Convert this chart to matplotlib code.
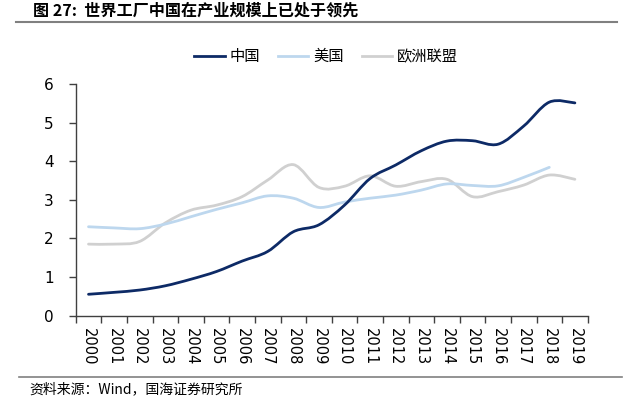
import numpy as np
import matplotlib
matplotlib.use("Agg")
import matplotlib.pyplot as plt
from matplotlib.path import Path
from matplotlib.patches import PathPatch
from matplotlib.lines import Line2D

plt.rcParams['font.family'] = ['Noto Sans CJK SC', 'DejaVu Sans']

years = [str(y) for y in range(2000, 2020)]
china = [0.55, 0.60, 0.66, 0.77, 0.94, 1.14, 1.41, 1.66, 2.17, 2.35,
         2.86, 3.55, 3.90, 4.27, 4.52, 4.53, 4.44, 4.91, 5.53, 5.51]
usa = [2.30, 2.27, 2.25, 2.37, 2.56, 2.75, 2.92, 3.10, 3.04, 2.80,
       2.94, 3.04, 3.12, 3.25, 3.41, 3.37, 3.36, 3.58, 3.84, None]
eu = [1.85, 1.85, 1.92, 2.40, 2.73, 2.86, 3.08, 3.51, 3.91, 3.32,
      3.35, 3.62, 3.35, 3.47, 3.53, 3.08, 3.21, 3.38, 3.64, 3.53]
series_names = ['中国', '美国', '欧洲联盟']
colors = ['#0D2A66', '#BDD7EE', '#D0D0D0']

W, H = 633, 411
fig = plt.figure(figsize=(W / 100, H / 100), dpi=100)
ax = fig.add_axes([75.7 / W, (H - 315.5) / H, (587.7 - 75.7) / W, (315.5 - 84) / H])


def smooth_path(xs, ys, t=1 / 6):
    pts = np.column_stack([xs, ys])
    n = len(pts)
    verts = [pts[0]]
    codes = [Path.MOVETO]
    for i in range(n - 1):
        p0 = pts[i - 1] if i > 0 else pts[i]
        p1 = pts[i]
        p2 = pts[i + 1]
        p3 = pts[i + 2] if i + 2 < n else pts[i + 1]
        c1 = p1 + (p2 - p0) * t
        c2 = p2 - (p3 - p1) * t
        verts += [c1, c2, p2]
        codes += [Path.CURVE4] * 3
    return Path(verts, codes)


order = [(eu, 2), (usa, 1), (china, 0)]
for data, idx in order:
    xs = [i for i, v in enumerate(data) if v is not None]
    ys = [v for v in data if v is not None]
    patch = PathPatch(smooth_path(np.array(xs, float), np.array(ys, float)),
                      facecolor='none', edgecolor=colors[idx], lw=2.0,
                      capstyle='round', joinstyle='round', zorder=3 - idx * 0.1)
    ax.add_patch(patch)

ax.set_xlim(-0.5, len(years) - 0.5)
ax.set_ylim(0, 6)
ax.set_yticks(range(0, 7))
ax.set_yticklabels([str(v) for v in range(0, 7)], fontsize=11, family=['DejaVu Sans'])
ax.set_xticks(np.arange(len(years)))
ax.set_xticklabels(years, rotation=-90, fontsize=10.5, family=['DejaVu Sans'])
ax.set_xticks(np.arange(-0.5, len(years)), minor=True)
ax.tick_params(axis='x', which='major', length=0, pad=9)
ax.tick_params(axis='x', which='minor', length=5, width=1, color='#404040', direction='out')
ax.tick_params(axis='y', length=5, width=1, color='#404040', direction='out', pad=11)
for s in ['top', 'right']:
    ax.spines[s].set_visible(False)
for s in ['left', 'bottom']:
    ax.spines[s].set_color('#404040')
    ax.spines[s].set_linewidth(1)

handles = [Line2D([], [], color=c, lw=2.0) for c in colors]
fig.legend(handles, series_names, loc='center', bbox_to_anchor=(326 / W, (H - 56.5) / H),
           ncol=3, frameon=False, fontsize=11, handlelength=2.0, handletextpad=0.3,
           columnspacing=1.2)

fig.text(33 / W, (H - 10.5) / H, '图 27:  世界工厂中国在产业规模上已处于领先',
         fontsize=11.6, fontweight='bold', va='center', ha='left')
fig.add_artist(Line2D([16 / W, 617 / W], [(H - 22.5) / H] * 2, color='#808080', lw=1.5))
fig.add_artist(Line2D([19 / W, 622 / W], [(H - 376.5) / H] * 2, color='#808080', lw=1.2))
fig.text(29 / W, (H - 389) / H, '资料来源：Wind，国海证券研究所', fontsize=10,
         va='center', ha='left')

fig.savefig('out.png', dpi=100)
